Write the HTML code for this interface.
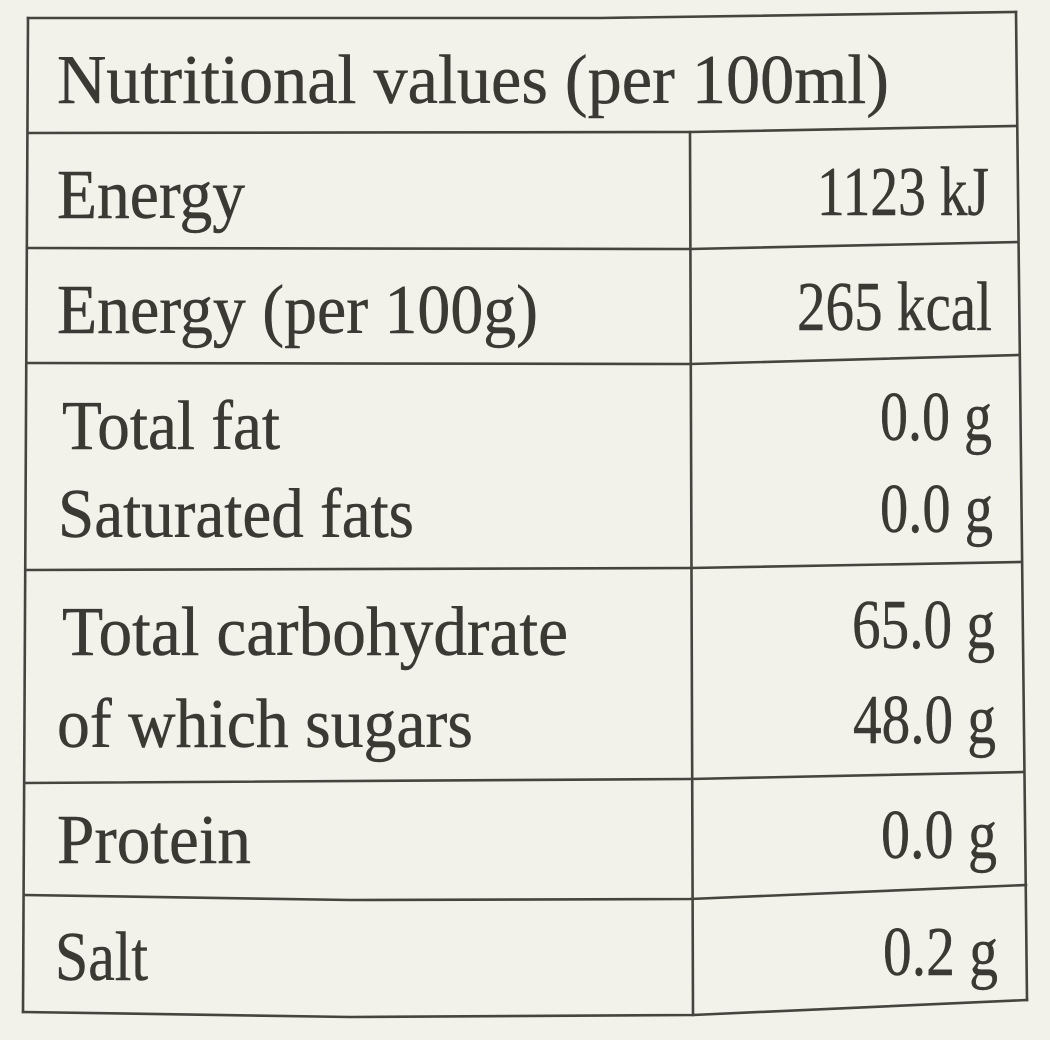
<!DOCTYPE html>
<html>
<head>
<meta charset="utf-8">
<style>
  html, body { margin: 0; padding: 0; background: #f2f1ea; }
  body { width: 1050px; height: 1040px; overflow: hidden; }
  svg { display: block; }
  text { font-family: "Liberation Serif", "DejaVu Serif", serif; fill: #3a3934; stroke: #3a3934; stroke-width: 0.45px; font-size: 70px; }
</style>
</head>
<body>
<svg width="1050" height="1040" viewBox="0 0 1050 1040" xmlns="http://www.w3.org/2000/svg">
  <rect x="0" y="0" width="1050" height="1040" fill="#f2f1ea"/>
  <g fill="none" stroke="#45443f" stroke-width="2.6" stroke-linejoin="round" stroke-linecap="square">
    <path d="M28,18 L600,18 L1016,12"/>
    <path d="M28,133 L690,132 L1016,126"/>
    <path d="M27,248 L690,249 L1018,242"/>
    <path d="M27,363 L690,364 L1019,355"/>
    <path d="M26,570 L690,568 L1021,562"/>
    <path d="M25,783 L690,779 L1024,772"/>
    <path d="M24,895 L350,900 L690,899 L1026,885"/>
    <path d="M23,1012 L350,1017 L693,1015 L1027,1000"/>
    <path d="M28,18 L23,1012"/>
    <path d="M1016,12 L1027,1000"/>
    <path d="M690,132 L693,1015"/>
  </g>

  <text x="57" y="103" textLength="832" lengthAdjust="spacingAndGlyphs">Nutritional values (per 100ml)</text>

  <text x="57" y="218" textLength="188" lengthAdjust="spacingAndGlyphs">Energy</text>
  <text x="817" y="215" textLength="172" lengthAdjust="spacingAndGlyphs">1123 kJ</text>

  <text x="57" y="333" textLength="481" lengthAdjust="spacingAndGlyphs">Energy (per 100g)</text>
  <text x="797" y="330" textLength="195" lengthAdjust="spacingAndGlyphs">265 kcal</text>

  <text x="62" y="449" textLength="218" lengthAdjust="spacingAndGlyphs">Total fat</text>
  <text x="880" y="440" textLength="112" lengthAdjust="spacingAndGlyphs">0.0 g</text>

  <text x="58" y="537" textLength="356" lengthAdjust="spacingAndGlyphs">Saturated fats</text>
  <text x="880" y="532" textLength="113" lengthAdjust="spacingAndGlyphs">0.0 g</text>

  <text x="62" y="655" textLength="506" lengthAdjust="spacingAndGlyphs">Total carbohydrate</text>
  <text x="852" y="648" textLength="143" lengthAdjust="spacingAndGlyphs">65.0 g</text>

  <text x="57" y="747" textLength="416" lengthAdjust="spacingAndGlyphs">of which sugars</text>
  <text x="853" y="743" textLength="143" lengthAdjust="spacingAndGlyphs">48.0 g</text>

  <text x="57" y="863" textLength="194" lengthAdjust="spacingAndGlyphs">Protein</text>
  <text x="881" y="858" textLength="116" lengthAdjust="spacingAndGlyphs">0.0 g</text>

  <text x="55" y="980" textLength="93" lengthAdjust="spacingAndGlyphs">Salt</text>
  <text x="883" y="975" textLength="115" lengthAdjust="spacingAndGlyphs">0.2 g</text>
</svg>
</body>
</html>
